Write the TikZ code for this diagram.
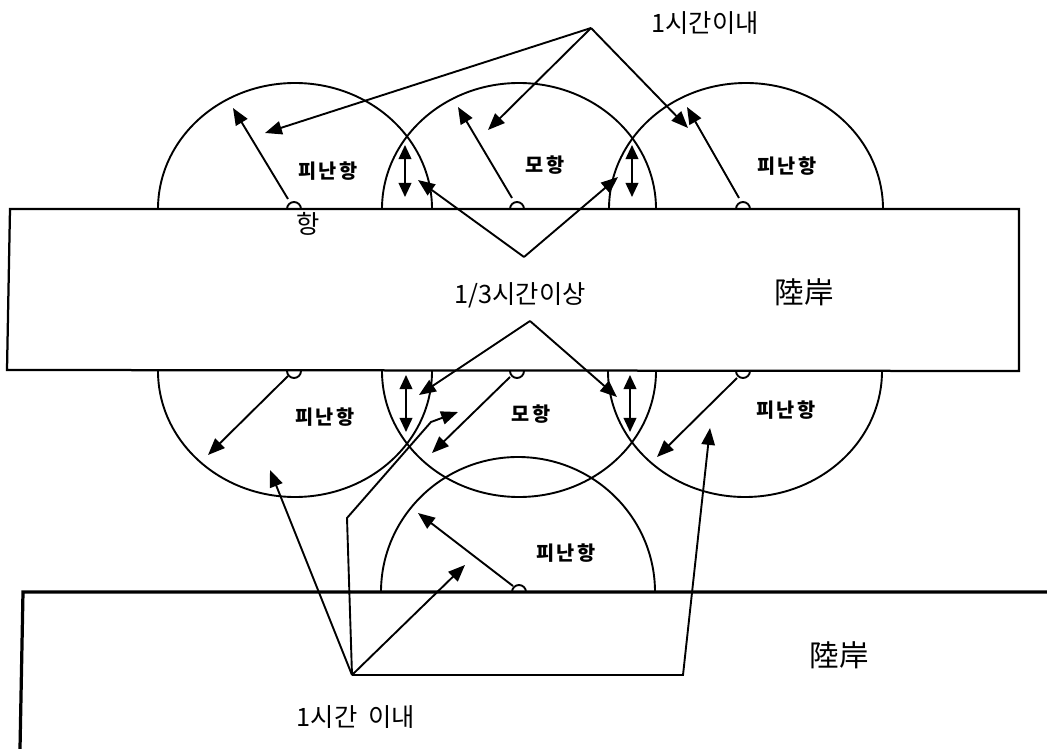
\documentclass[tikz,border=0pt]{standalone}
\usepackage{fontspec}
\newfontfamily\cjk{Noto Sans CJK KR}
\newfontfamily\cjkwide[LetterSpace=12]{Noto Sans CJK KR}
\usetikzlibrary{arrows.meta, calc}

\begin{document}
\begin{tikzpicture}[
    x=0.025cm, y=-0.025cm,
    line width=1.35pt,
    route/.style={-{Triangle[length=12pt, width=9.5pt]}},
    twoway/.style={{Triangle[length=10pt, width=9pt]}-{Triangle[length=10pt, width=9pt]}},
    coast/.style={line width=1.6pt},
    shore/.style={line width=2.3pt},
    harbour/.style={font=\cjkwide\bfseries\fontsize{14}{14}\selectfont, inner sep=0pt},
    note/.style={font=\cjk\fontsize{18}{18}\selectfont, inner sep=0pt},
    land/.style={font=\cjk\fontsize{21}{21}\selectfont, inner sep=0pt}
]
    \useasboundingbox (0,0) rectangle (1047,749);

    % ================= COAST =================
    \coordinate (cTL) at (10,209);
    \coordinate (cTR) at (1019,209);
    \coordinate (cBR) at (1019,371);
    \coordinate (cBL) at (7,370);
    \draw[coast] (cTL) -- (cTR) -- (cBR) -- (cBL) -- cycle;

    \coordinate (sL) at (23,592);
    \coordinate (sR) at (1047,592);
    \coordinate (sD) at (20,749);
    \draw[shore] (sD) -- (sL) -- (sR);

    % ================= PORTS =================
    \coordinate (u1) at (294,209);
    \coordinate (u2) at (517,209);
    \coordinate (u3) at (743,209);
    \coordinate (l1) at (294,371);
    \coordinate (l2) at (517,371);
    \coordinate (l3) at (743,371);
    \coordinate (b1) at (519,592);

    % upper ranges
    \begin{scope}
        \clip (0,0) rectangle (1047,209);
        \draw (295,209) ellipse [x radius=137, y radius=126];
        \draw (519,209) ellipse [x radius=137, y radius=126];
        \draw (746,209) ellipse [x radius=137, y radius=126];
        \draw (u1) circle (7);
        \draw (u2) circle (7);
        \draw (u3) circle (7);
    \end{scope}

    % lower ranges
    \begin{scope}
        \clip (0,371) rectangle (1047,749);
        \draw (295,371) ellipse [x radius=137, y radius=126];
        \draw (519,371) ellipse [x radius=137, y radius=126];
        \draw (745,371) ellipse [x radius=137, y radius=126];
        \draw (l1) circle (7);
        \draw (l2) circle (7);
        \draw (l3) circle (7);
    \end{scope}

    % bottom range
    \begin{scope}
        \clip (0,0) rectangle (1047,592);
        \draw (518,592) ellipse [x radius=137, y radius=135];
        \draw (b1) circle (7);
    \end{scope}

    % ================= LABELS =================
    \node[note] (tOne) at (705,23) {1시간이내};
    \node[harbour] (hU1) at (328,171) {피난항};
    \node[harbour] (hU2) at (545,165) {모항};
    \node[harbour] (hU3) at (787,166) {피난항};
    \node[font=\cjk\fontsize{18}{18}\selectfont, inner sep=0pt] (hang) at (308,224) {항};
    \node[note] (tThird) at (520,295) {1/3시간이상};
    \node[land] (land1) at (804,292) {陸岸};
    \node[harbour] (hL1) at (325,417) {피난항};
    \node[harbour] (hL2) at (531,414) {모항};
    \node[harbour] (hL3) at (786,410) {피난항};
    \node[harbour] (hB1) at (566,553) {피난항};
    \node[land] (land2) at (839,655) {陸岸};
    \node[note] (tBottom) at (356,717) {1시간\ \ 이내};

    % ================= WITHIN 1 HOUR (TOP) =================
    \coordinate (apexT) at (591,28);
    \coordinate (t1) at (265,133);
    \coordinate (t2) at (488,130);
    \coordinate (t3) at (688,128);
    \draw[route] (apexT) -- (t1);
    \draw[route] (apexT) -- (t2);
    \draw[route] (apexT) -- (t3);

    % port reach (top)
    \coordinate (pu1) at (288,199);
    \coordinate (pu2) at (512,198);
    \coordinate (pu3) at (739,198);
    \coordinate (qu1) at (233,108);
    \coordinate (qu2) at (458,107);
    \coordinate (qu3) at (687,107);
    \draw[route] (pu1) -- (qu1);
    \draw[route] (pu2) -- (qu2);
    \draw[route] (pu3) -- (qu3);

    % overlaps
    \coordinate (d1a) at (405,145);
    \coordinate (d1b) at (405,197);
    \coordinate (d2a) at (632,145);
    \coordinate (d2b) at (632,197);
    \coordinate (d3a) at (406,375);
    \coordinate (d3b) at (406,432);
    \coordinate (d4a) at (630,375);
    \coordinate (d4b) at (630,432);
    \draw[twoway] (d1a) -- (d1b);
    \draw[twoway] (d2a) -- (d2b);
    \draw[twoway] (d3a) -- (d3b);
    \draw[twoway] (d4a) -- (d4b);

    % ================= OVER 1/3 HOUR =================
    \coordinate (apexU) at (524,257);
    \coordinate (m1) at (418,180);
    \coordinate (m2) at (618,177);
    \draw[route] (apexU) -- (m1);
    \draw[route] (apexU) -- (m2);

    \coordinate (apexL) at (530,321);
    \coordinate (m3) at (419,395);
    \coordinate (m4) at (617,397);
    \draw[route] (apexL) -- (m3);
    \draw[route] (apexL) -- (m4);

    % port reach (lower)
    \coordinate (pl1) at (288,376);
    \coordinate (pl2) at (510,377);
    \coordinate (pl3) at (737,378);
    \coordinate (ql1) at (208,455);
    \coordinate (ql2) at (432,453);
    \coordinate (ql3) at (657,457);
    \draw[route] (pl1) -- (ql1);
    \draw[route] (pl2) -- (ql2);
    \draw[route] (pl3) -- (ql3);

    \coordinate (pb1) at (513,586);
    \coordinate (qb1) at (418,513);
    \draw[route] (pb1) -- (qb1);

    % ================= WITHIN 1 HOUR (BOTTOM) =================
    \coordinate (apexB) at (352,675);
    \coordinate (k1) at (347,518);
    \coordinate (k2) at (431,422);
    \coordinate (k3) at (683,675);
    \coordinate (n1) at (270,470);
    \coordinate (n2) at (458,412);
    \coordinate (n3) at (465,565);
    \coordinate (n4) at (710,428);
    \draw[route] (apexB) -- (n1);
    \draw[route] (apexB) -- (k1) -- (k2) -- (n2);
    \draw[route] (apexB) -- (n3);
    \draw[route] (apexB) -- (k3) -- (n4);

\end{tikzpicture}
\end{document}
